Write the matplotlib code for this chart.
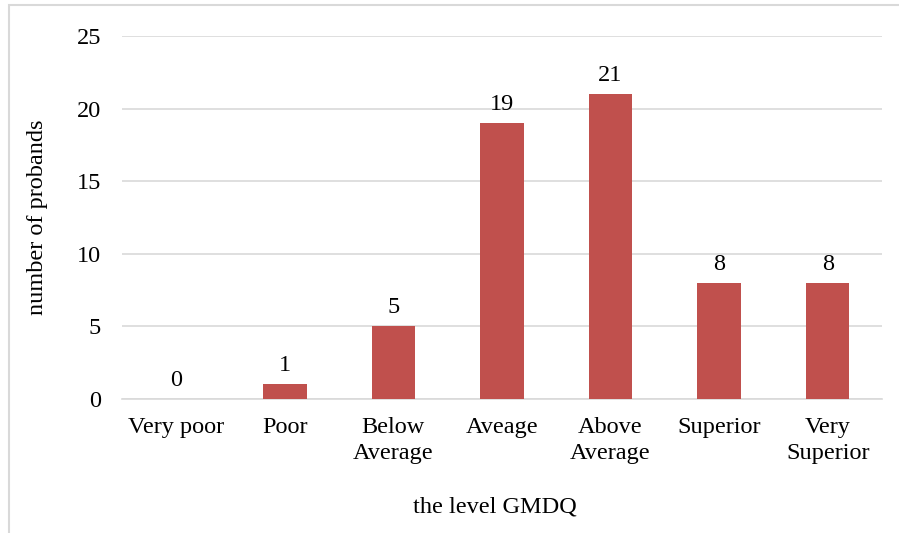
import matplotlib
matplotlib.use('Agg')
import matplotlib.pyplot as plt
from matplotlib.patches import Rectangle

# ── Data ───────────────────────────────────────────────────────────────
categories = ["Very poor", "Poor", "Below\nAverage", "Aveage", "Above\nAverage",
              "Superior", "Very\nSuperior"]
counts = [0, 1, 5, 19, 21, 8, 8]
yticks = [0, 5, 10, 15, 20, 25]

plt.rcParams['font.family'] = ['Liberation Serif', 'DejaVu Serif']
FS = 17.5

fig = plt.figure(figsize=(8.99, 5.33), dpi=100)
ax = fig.add_axes([0.1357, 0.2514, 0.8453, 0.6811])

x = list(range(len(categories)))
bars = ax.bar(x, counts, width=0.4, color='#C0504D', zorder=3)
for xi, v in zip(x, counts):
    ax.annotate(str(v), (xi, v), xytext=(0, 6), textcoords='offset points',
                ha='center', va='bottom', fontsize=FS, color='#000000')

ax.set_xlim(-0.5, len(categories) - 0.5)
ax.set_ylim(0, 25)
ax.set_yticks(yticks)
ax.set_xticks(x)
ax.set_xticklabels(categories, fontsize=FS, linespacing=1.3)
ax.tick_params(axis='y', length=0, pad=15, labelsize=FS)
ax.tick_params(axis='x', length=0, pad=13)
ax.grid(axis='y', color='#D9D9D9', lw=1.2, zorder=0)
for s in ['top', 'right', 'left']:
    ax.spines[s].set_visible(False)
ax.spines['bottom'].set_color('#D9D9D9')
ax.spines['bottom'].set_linewidth(1.2)

ax.set_ylabel('number of probands', fontsize=FS)
ax.yaxis.set_label_coords(-0.098, 0.5)
fig.text(0.55, 0.048, 'the level GMDQ', ha='center', va='center', fontsize=FS)

# outer chart frame (extends past right/bottom edge)
fig.add_artist(Rectangle((9 / 899, -0.1), 1.1, 1 - 5 / 533 + 0.1,
                         transform=fig.transFigure, fill=False,
                         edgecolor='#D9D9D9', lw=1.5))

fig.savefig('out.png', dpi=100, facecolor='white')
